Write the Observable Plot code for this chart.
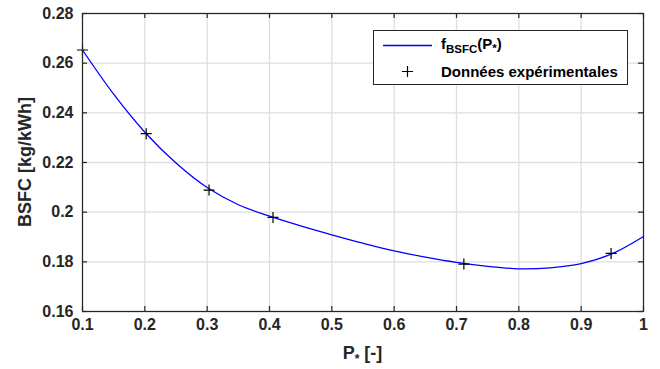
<!DOCTYPE html>
<html><head><meta charset="utf-8">
<script src="https://cdn.jsdelivr.net/npm/d3@7"></script>
<script src="https://cdn.jsdelivr.net/npm/@observablehq/plot@0.6"></script>
<style>
html,body{margin:0;padding:0;background:#fff;}
#chart{position:relative;width:660px;height:369px;}
</style>
</head><body><div id="chart"></div>
<script>
// ---- data ----
const xTicks = [0.1, 0.2, 0.3, 0.4, 0.5, 0.6, 0.7, 0.8, 0.9, 1.0];
const yTicks = [0.16, 0.18, 0.20, 0.22, 0.24, 0.26, 0.28];
// fitted curve f_BSFC(P*)
const fitP    = [0.10, 0.15, 0.20, 0.25, 0.30, 0.35, 0.40, 0.45, 0.50, 0.55, 0.60, 0.65, 0.70, 0.75, 0.80, 0.85, 0.90, 0.95, 1.00];
const fitBSFC = [0.2653, 0.2475, 0.2322, 0.2198, 0.2099, 0.2030, 0.1984, 0.1945, 0.1909, 0.1875, 0.1844, 0.1819, 0.1798, 0.1782, 0.1772, 0.1776, 0.1793, 0.1833, 0.1902];
// experimental points
const expP    = [0.1, 0.2022, 0.3030, 0.4056, 0.7118, 0.9480];
const expBSFC = [0.2653, 0.2316, 0.2089, 0.1979, 0.1791, 0.1834];
const legendLabels = ["f", "BSFC", "(P", "*", ")", "Données expérimentales"];

const fitData = fitP.map((p, i) => ({p, v: fitBSFC[i]}));
const expData = expP.map((p, i) => ({p, v: expBSFC[i]}));

const W = 660, H = 369, mL = 82, mR = 17, mT = 13, mB = 58;
const innerW = W - mL - mR, innerH = H - mT - mB;
const axisColor = "#262626", gridColor = "#dedede";
const font = "'Liberation Sans', Arial, Helvetica, sans-serif";

const plusSymbol = {
  draw(ctx, size) {
    const r = Math.sqrt(size / Math.PI);
    ctx.moveTo(-r, 0); ctx.lineTo(r, 0);
    ctx.moveTo(0, -r); ctx.lineTo(0, r);
  }
};
const fmt = d3.format("~g");

const plot = Plot.plot({
  width: W, height: H,
  marginLeft: mL, marginRight: mR, marginTop: mT, marginBottom: mB,
  style: {fontFamily: font, fontWeight: "bold", fontSize: "16px", color: axisColor, background: "white"},
  x: {domain: [0.1, 1], label: null},
  y: {domain: [0.16, 0.28], label: null},
  marks: [
    Plot.gridX(xTicks, {stroke: gridColor, strokeOpacity: 1, strokeWidth: 1.3}),
    Plot.gridY(yTicks, {stroke: gridColor, strokeOpacity: 1, strokeWidth: 1.3}),
    Plot.line(fitData, {x: "p", y: "v", stroke: "#0000ff", strokeWidth: 1.3, curve: "catmull-rom"}),
    Plot.dot(expData, {x: "p", y: "v", symbol: plusSymbol, r: 5.5, stroke: "black", strokeWidth: 1.2, fill: "none"}),
    // inward ticks on all four sides
    Plot.tickX(xTicks, {x: d => d, stroke: axisColor, strokeWidth: 1.2, insetTop: innerH - 5}),
    Plot.tickX(xTicks, {x: d => d, stroke: axisColor, strokeWidth: 1.2, insetBottom: innerH - 5}),
    Plot.tickY(yTicks, {y: d => d, stroke: axisColor, strokeWidth: 1.2, insetRight: innerW - 5}),
    Plot.tickY(yTicks, {y: d => d, stroke: axisColor, strokeWidth: 1.2, insetLeft: innerW - 5}),
    Plot.frame({stroke: axisColor, strokeWidth: 1.2}),
    Plot.axisX(xTicks, {tickSize: 0, tickPadding: 7, tickFormat: fmt, fill: axisColor, fontSize: 16, label: null}),
    Plot.axisY(yTicks, {tickSize: 0, tickPadding: 9, tickFormat: fmt, fill: axisColor, fontSize: 16, label: null})
  ]
});
document.getElementById("chart").appendChild(plot);

// axis titles and legend (with subscripts)
const svg = d3.select(plot);
const xs = plot.scale("x"), ys = plot.scale("y");
const cx = (xs.range[0] + xs.range[1]) / 2;
const cy = (ys.range[0] + ys.range[1]) / 2;

const xt = svg.append("text").attr("x", cx).attr("y", H - 10).attr("text-anchor", "middle")
  .attr("font-size", 18).attr("font-weight", "bold").attr("fill", axisColor).attr("font-family", font);
xt.append("tspan").text("P");
xt.append("tspan").attr("font-size", 12).attr("dy", 4).text("*");
xt.append("tspan").attr("dy", -4).text(" [-]");

svg.append("text").attr("transform", `translate(${31},${cy}) rotate(-90)`).attr("text-anchor", "middle")
  .attr("font-size", 18).attr("font-weight", "bold").attr("fill", axisColor).attr("font-family", font)
  .text("BSFC [kg/kWh]");

// legend box
const lx = xs.range[1] - 270, ly = mT + 17, lw = 254, lh = 54;
const g = svg.append("g").attr("font-family", font).attr("font-weight", "bold").attr("fill", "black")
  .attr("text-anchor", "start");
g.append("rect").attr("x", lx + 0.5).attr("y", ly + 0.5).attr("width", lw).attr("height", lh)
  .attr("fill", "white").attr("stroke", axisColor).attr("stroke-width", 1);
g.append("line").attr("x1", lx + 10).attr("x2", lx + 59).attr("y1", ly + 15.5).attr("y2", ly + 15.5)
  .attr("stroke", "#0000ff").attr("stroke-width", 1.3);
const t1 = g.append("text").attr("x", lx + 68).attr("y", ly + 19).attr("font-size", 15).attr("text-anchor", "start");
t1.append("tspan").text(legendLabels[0]);
t1.append("tspan").attr("font-size", 11.5).attr("dy", 4).text(legendLabels[1]);
t1.append("tspan").attr("dy", -4).text(legendLabels[2]);
t1.append("tspan").attr("font-size", 11.5).attr("dy", 3).text(legendLabels[3]);
t1.append("tspan").attr("dy", -3).text(legendLabels[4]);
g.append("path").attr("d", `M${lx + 29},${ly + 41.5}h11M${lx + 34.5},${ly + 36}v11`)
  .attr("stroke", "black").attr("stroke-width", 1.2).attr("fill", "none");
g.append("text").attr("x", lx + 68).attr("y", ly + 47).attr("font-size", 15).attr("text-anchor", "start").text(legendLabels[5]);
</script>
</body></html>
